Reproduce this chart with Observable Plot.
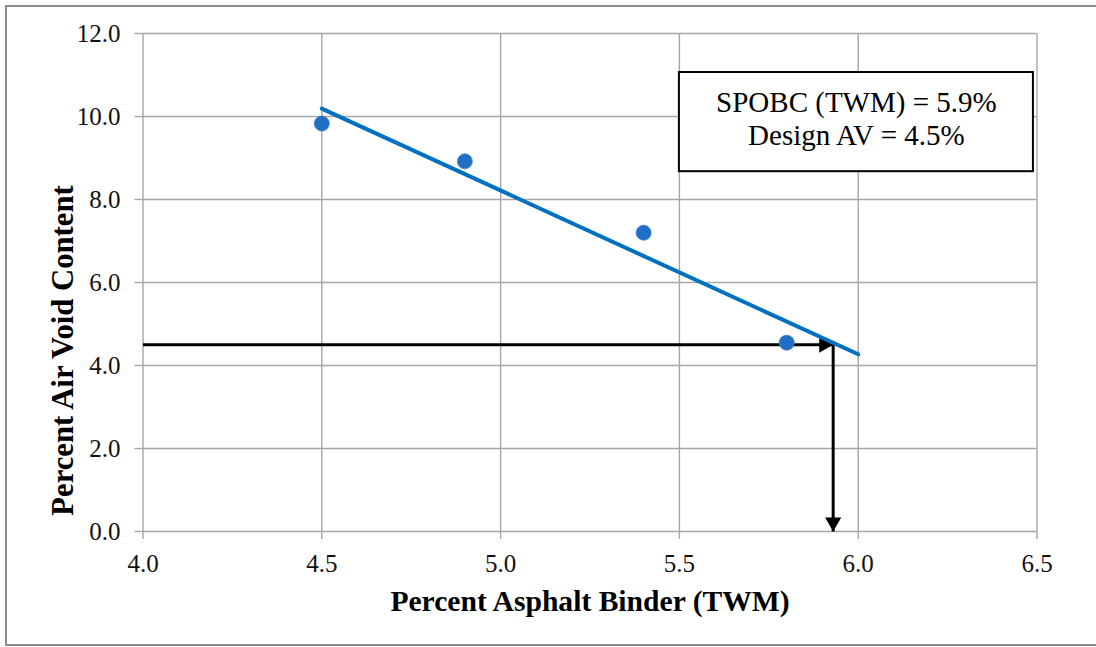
<!DOCTYPE html>
<html>
<head>
<meta charset="utf-8">
<script src="https://cdn.jsdelivr.net/npm/d3@7"></script>
<script src="https://cdn.jsdelivr.net/npm/@observablehq/plot@0.6"></script>
<style>
  html, body { margin: 0; padding: 0; background: #fff; overflow: hidden; }
  #wrap { position: relative; width: 1096px; height: 647px; }
  #border { position: absolute; left: 5px; top: 5px; width: 1100px; height: 641px; box-sizing: border-box; border: 2px solid #8c8c8c; pointer-events: none; }
  #chart { position: absolute; left: 0; top: 0; }
  #chart svg, #chart svg text { font-family: "Liberation Serif", "Times New Roman", serif !important; }
</style>
</head>
<body>
<div id="wrap"><div id="chart"></div><div id="border"></div></div>
<script>
// Data
const binder = [4.5, 4.9, 5.4, 5.8];
const airVoid = [9.83, 8.92, 7.2, 4.55];
const trendX = [4.5, 6.0];
const trendY = [10.19, 4.27];
const designAV = 4.5;
const optimumBinder = 5.93;
const xTicks = [4.0, 4.5, 5.0, 5.5, 6.0, 6.5];
const yTicks = [0, 2, 4, 6, 8, 10, 12];
const noteLines = ["SPOBC (TWM) = 5.9%", "Design AV = 4.5%"];
const noteX = [5.5, 6.49];
const noteY = [8.67, 11.06];
const xTitle = "Percent Asphalt Binder (TWM)";
const yTitle = "Percent Air Void Content";

const points = binder.map((b, i) => ({x: b, y: airVoid[i]}));
const trend = trendX.map((t, i) => ({x: t, y: trendY[i]}));
const gridColor = "#a6a6a6";
const font = "Liberation Serif";

const chart = Plot.plot({
  width: 1096,
  height: 647,
  marginLeft: 142.5,
  marginRight: 59.5,
  marginTop: 33,
  marginBottom: 116,
  style: {fontFamily: font, fontSize: "25px", color: "#111", background: "transparent"},
  x: {domain: [4, 6.5]},
  y: {domain: [0, 12]},
  marks: [
    Plot.ruleX(xTicks, {stroke: gridColor, strokeWidth: 1.4}),
    Plot.ruleY(yTicks, {stroke: gridColor, strokeWidth: 1.4}),
    Plot.axisX(xTicks, {tickSize: 8, tickPadding: 15, tickFormat: d => d.toFixed(1), stroke: gridColor, strokeWidth: 1.4, fill: "#111", fontSize: 25, fontFamily: font, label: null}),
    Plot.axisY(yTicks, {tickSize: 8, tickPadding: 14.5, tickFormat: d => d.toFixed(1), stroke: gridColor, strokeWidth: 1.4, fill: "#111", fontSize: 25, fontFamily: font, label: null}),
    // annotation box
    Plot.rect([{x1: noteX[0], x2: noteX[1], y1: noteY[0], y2: noteY[1]}], {x1: "x1", x2: "x2", y1: "y1", y2: "y2", fill: "white", stroke: "black", strokeWidth: 2}),
    Plot.text([noteLines.join("\n")], {x: (noteX[0] + noteX[1]) / 2, y: (noteY[0] + noteY[1]) / 2, fontSize: 29, fontFamily: font, lineHeight: 1.15, fill: "#000", dy: -4}),
    // design arrows
    Plot.link([{x1: xTicks[0], y1: designAV, x2: optimumBinder, y2: designAV}], {x1: "x1", y1: "y1", x2: "x2", y2: "y2", stroke: "black", strokeWidth: 3}),
    Plot.link([{x1: optimumBinder, y1: designAV, x2: optimumBinder, y2: 0}], {x1: "x1", y1: "y1", x2: "x2", y2: "y2", stroke: "black", strokeWidth: 3}),
    Plot.dot([{x: optimumBinder, y: designAV}], {x: "x", y: "y", symbol: "triangle", r: 6, rotate: 90, fill: "black", stroke: "none", dx: -9.3}),
    Plot.dot([{x: optimumBinder, y: 0}], {x: "x", y: "y", symbol: "triangle", r: 6, rotate: 180, fill: "black", stroke: "none", dy: -9.3}),
    // trend line
    Plot.line(trend, {x: "x", y: "y", stroke: "#0070c0", strokeWidth: 4}),
    // data points
    Plot.dot(points, {x: "x", y: "y", r: 7.5, fill: "#1f6fc5", stroke: "#3b7fcf", strokeWidth: 0.8}),
    // axis titles
    Plot.text([xTitle], {frameAnchor: "bottom", textAnchor: "middle", lineAnchor: "middle", dy: 70, fontSize: 29.6, fontFamily: font, fontWeight: "bold", fill: "#000"}),
    Plot.text([yTitle], {frameAnchor: "left", textAnchor: "middle", lineAnchor: "middle", rotate: -90, dx: -80, dy: 68, fontSize: 30.7, fontFamily: font, fontWeight: "bold", fill: "#000"})
  ]
});
document.getElementById("chart").appendChild(chart);
</script>
</body>
</html>
